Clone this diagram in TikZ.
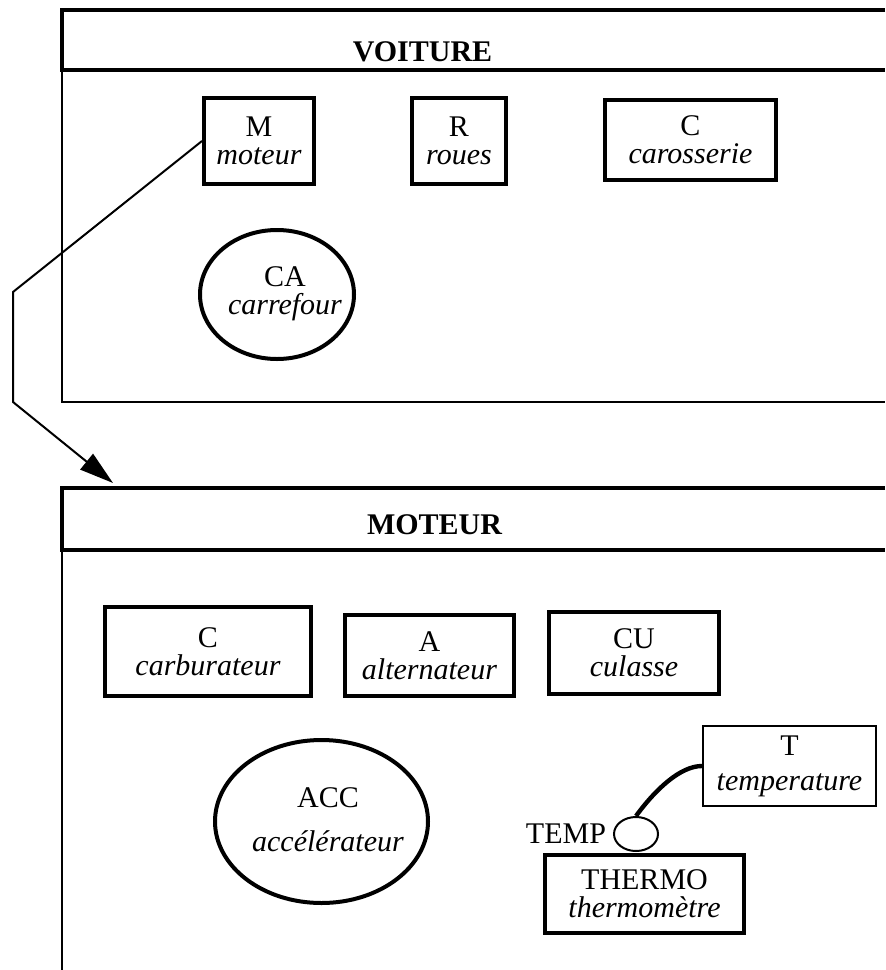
\documentclass[tikz,border=0pt]{standalone}
\usepackage{fontspec}
\setmainfont{Liberation Serif}
\usetikzlibrary{shapes.geometric,positioning,arrows.meta}
\tikzset{
  headline/.style={line width=2pt},
  bodyline/.style={line width=1pt},
  frametitle/.style={font=\bfseries\fontsize{15}{14}\selectfont},
  partbox/.style={draw, line width=2pt, inner sep=0pt, align=center},
  thinbox/.style={draw, line width=1pt, inner sep=0pt, align=center},
  partoval/.style={draw, ellipse, line width=2pt, inner sep=0pt},
  parttext/.style={align=center, inner sep=0pt},
}
\begin{document}
\begin{tikzpicture}[x=0.5pt, y=-0.5pt, font=\fontsize{15}{14}\selectfont]
    \useasboundingbox (0,0) rectangle (885,970);

    \draw[headline] (885,10) -- (62,10) -- (62,70) -- (885,70);
    \draw[bodyline] (62,70) -- (62,402) -- (885,402);
    \node[frametitle] (voiture) at (422.5,52) {VOITURE};

    \node[partbox, minimum width=55pt, minimum height=43pt] (moteur) at (259,141) {M\\\textit{moteur}};
    \node[partbox, minimum width=47pt, minimum height=43pt] (roues) at (459,141) {R\\\textit{roues}};
    \node[partbox, minimum width=85.5pt, minimum height=40pt] (carosserie) at (690.5,140) {C\\\textit{carosserie}};
    \node[partoval, minimum width=77pt, minimum height=64.5pt] (carrefour) at (277,294.5) {};
    \node[parttext] (carrefourtxt) at (285,294) {CA\\\textit{carrefour}};

    \coordinate (bendtop) at (13,292);
    \coordinate (bendbottom) at (13,402);
    \coordinate (arrowtip) at (113,483);
    \draw[bodyline, -{Triangle[length=17pt,width=10pt]}] (moteur.west) -- (bendtop) -- (bendbottom) -- (arrowtip);

    \draw[headline] (885,488) -- (62,488) -- (62,550) -- (885,550);
    \draw[bodyline] (62,550) -- (62,970);
    \node[frametitle] (moteurtitle) at (434.5,525) {MOTEUR};

    \node[partbox, minimum width=103pt, minimum height=44.5pt] (carburateur) at (208,651.5) {C\\\textit{carburateur}};
    \node[partbox, minimum width=84.5pt, minimum height=40.5pt] (alternateur) at (429.5,655.5) {A\\\textit{alternateur}};
    \node[partbox, minimum width=85pt, minimum height=41pt] (culasse) at (634,653) {CU\\\textit{culasse}};
    \node[partoval, minimum width=106.5pt, minimum height=81.5pt] (accelerateur) at (321.5,821.5) {};
    \node[parttext] (acceleratortxt) at (328,820) {ACC\\[8pt]\textit{accélérateur}};

    \node[thinbox, minimum width=86.5pt, minimum height=40pt, font=\fontsize{15}{17.5}\selectfont] (temperature) at (789.5,766) {T\\\textit{temperature}};
    \node[draw, ellipse, line width=1pt, minimum width=22pt, minimum height=17pt, inner sep=0pt] (temp) at (636,834) {};
    \node[left=0pt of temp] (templabel) {TEMP};
    \node[partbox, minimum width=99.5pt, minimum height=39pt] (thermometre) at (644.5,894) {THERMO\\\textit{thermomètre}};
    \draw[line width=2.2pt] (temperature.west) .. controls (680,766) and (655,790) .. (temp.north);

\end{tikzpicture}
\end{document}
